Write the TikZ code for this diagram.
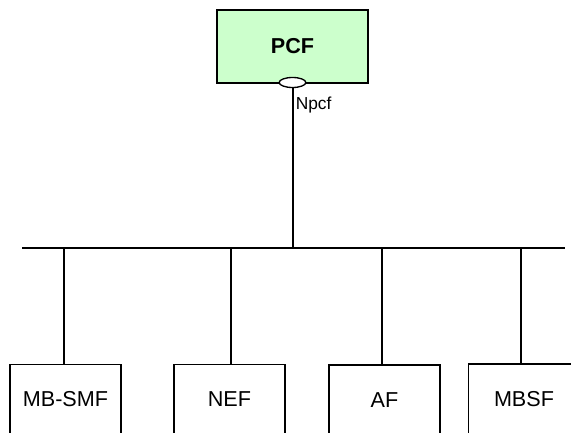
\documentclass[tikz,border=0pt]{standalone}
\usepackage{fontspec}
\setmainfont{Liberation Sans}
\usetikzlibrary{shapes.geometric}
\tikzset{
  x=0.75pt,y=-0.75pt,
  nfbox/.style={draw=black,line width=1pt,rectangle,minimum width=83.25pt,minimum height=52.5pt,inner sep=0pt,font=\fontsize{16.2pt}{18pt}\selectfont},
  wire/.style={draw=black,line width=1pt}
}
\definecolor{pcfgreen}{HTML}{CCFFCC}
\begin{document}
\begin{tikzpicture}
\useasboundingbox (0,0) rectangle (571,432);
\clip (0,0) rectangle (571,432);
\node[nfbox,fill=pcfgreen,minimum width=113.25pt,minimum height=54.75pt,font=\fontsize{16.2pt}{18pt}\selectfont\bfseries] (pcf) at (292.5,46.5) {PCF};
\node[ellipse,draw=black,fill=white,line width=1pt,minimum width=20pt,minimum height=7.5pt,inner sep=0pt] (port) at (292.5,82.5) {};
\node[anchor=west,inner sep=0pt,font=\fontsize{13pt}{15pt}\selectfont] (npcf) at (295.5,105.5) {Npcf};
\coordinate (busl) at (22,248);
\coordinate (busr) at (565,248);
\coordinate (busm) at (293,248);
\coordinate (b1) at (64,248);
\coordinate (b2) at (231,248);
\coordinate (b3) at (382,248);
\coordinate (b4) at (521,248);
\node[nfbox] (mbsmf) at (65.5,399.5) {MB-SMF};
\node[nfbox] (nef) at (229.5,399.5) {NEF};
\node[nfbox] (af) at (384.5,400) {AF};
\node[nfbox] (mbsf) at (524,399) {MBSF};
\draw[wire] (busl) -- (busr);
\draw[wire] (port.south -| busm) -- (busm);
\draw[wire] (b1) -- (b1 |- mbsmf.north);
\draw[wire] (b2) -- (b2 |- nef.north);
\draw[wire] (b3) -- (b3 |- af.north);
\draw[wire] (b4) -- (b4 |- mbsf.north);
\end{tikzpicture}
\end{document}
